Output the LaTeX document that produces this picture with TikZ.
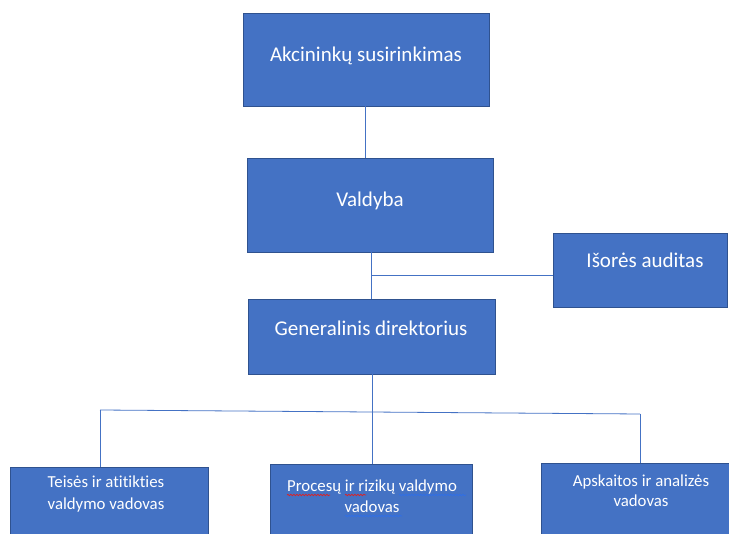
\documentclass[tikz,border=0pt]{standalone}
\usepackage{fontspec}
\setmainfont[Ligatures=NoCommon]{Carlito}
\usetikzlibrary{decorations.pathmorphing}
\definecolor{boxfill}{HTML}{4472C4}
\definecolor{boxedge}{HTML}{2F528F}
\definecolor{linkblue}{HTML}{4472C4}
\definecolor{spellred}{HTML}{E02020}
\definecolor{spellblue}{HTML}{2F6FE8}
\begin{document}
\begin{tikzpicture}[x=1pt,y=-1pt,
  orgbox/.style={draw=boxedge,line width=0.6pt,fill=boxfill},
  bigtext/.style={text=white,anchor=base,inner sep=0pt,font=\fontsize{21}{25}\selectfont},
  smalltext/.style={text=white,anchor=base,inner sep=0pt,font=\fontsize{16.8}{20}\selectfont},
  link/.style={draw=linkblue,line width=0.8pt},
  wavy/.style={decorate,decoration={snake,segment length=3pt,amplitude=0.7pt},line width=0.7pt}]
\useasboundingbox (0,0) rectangle (729,534);
% boxes
\draw[orgbox] (243,13) rectangle (489,106);
\coordinate (aT) at (365,13); \coordinate (aB) at (365,106);
\draw[orgbox] (247,158) rectangle (493,252);
\coordinate (vT) at (365,158); \coordinate (vB) at (371,252);
\draw[orgbox] (553,233) rectangle (727,307);
\coordinate (iL) at (553,275);
\draw[orgbox] (248,299) rectangle (495,374);
\coordinate (gT) at (371,299); \coordinate (gB) at (372,374);
\draw[orgbox] (10,467) rectangle (208,540);
\coordinate (lT) at (100,467);
\draw[orgbox] (270,464) rectangle (472,540);
\coordinate (mT) at (372,464);
\draw[orgbox] (541,463) rectangle (735,540);
\coordinate (rT) at (640,463);
% texts
\node[bigtext] (ta) at (366,62) {Akcininkų susirinkimas};
\node[bigtext] (tv) at (370,207) {Valdyba};
\node[bigtext] (ti) at (645,268) {Išorės auditas};
\node[bigtext] (tg) at (371,336) {Generalinis direktorius};
\node[smalltext] (tl1) at (106,488) {Teisės ir atitikties};
\node[smalltext] (tl2) at (106,510) {valdymo vadovas};
\node[smalltext] (tm1) at (372,492) {Procesų ir rizikų valdymo};
\node[smalltext] (tm2) at (372,513) {vadovas};
\node[smalltext] (tr1) at (641,487) {Apskaitos ir analizės};
\node[smalltext] (tr2) at (641,507) {vadovas};
% spell-check underlines
\draw[wavy,spellred] (287,495) -- (330,495);
\draw[wavy,spellred] (345,495) -- (366,495);
\draw[wavy,spellblue] (399,495) -- (466,495);
\draw[wavy,spellblue] (345,516) -- (402,516);
% connectors
\coordinate (j1) at (371,275);
\coordinate (hL) at (100,410);
\coordinate (hR) at (640,414);
\draw[link] (aB) -- (vT);
\draw[link] (vB) -- (gT);
\draw[link] (j1) -- (iL);
\draw[link] (gB) -- (mT);
\draw[link] (hL) -- (hR);
\draw[link] (hL) -- (lT);
\draw[link] (hR) -- (rT);
\end{tikzpicture}
\end{document}
